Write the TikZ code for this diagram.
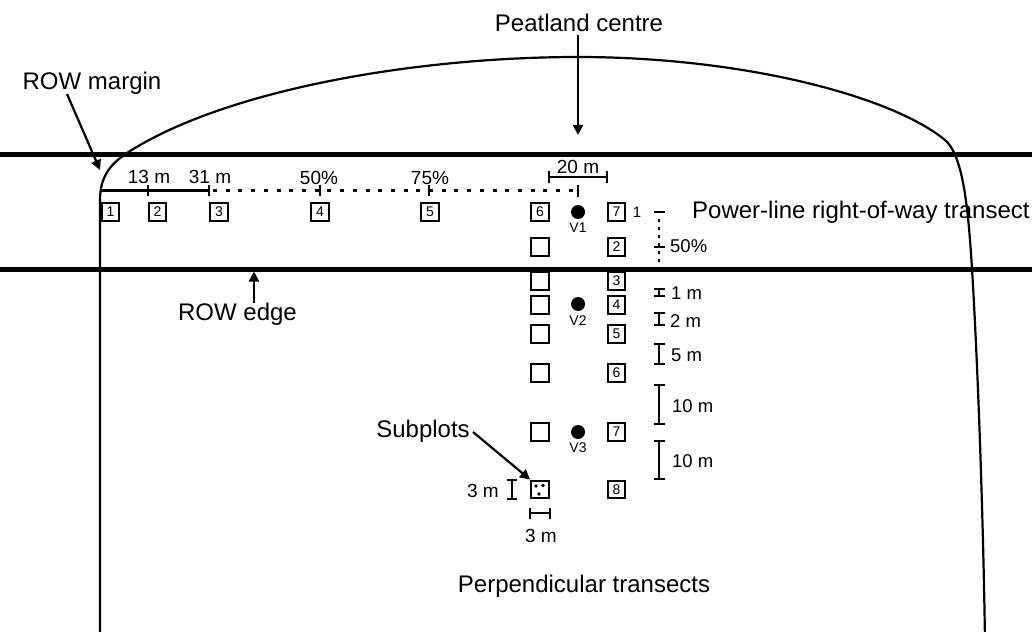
\documentclass[tikz,border=0pt]{standalone}
\usepackage{fontspec}
\setmainfont{Liberation Sans}
\usetikzlibrary{arrows.meta}
\begin{document}
\begin{tikzpicture}[x=1pt,y=-1pt,
  plotbox/.style={draw,line width=2.4pt,minimum size=17.5pt,inner sep=0pt,font=\fontsize{14}{16}\selectfont},
  biglbl/.style={inner sep=0pt,font=\fontsize{24}{28}\selectfont},
  midlbl/.style={inner sep=0pt,font=\fontsize{19}{22}\selectfont},
  sclbl/.style={inner sep=0pt,font=\fontsize{18.5}{22}\selectfont,anchor=base west},
  smalllbl/.style={inner sep=0pt,font=\fontsize{14}{16}\selectfont},
  rowline/.style={line width=5pt},
  outline/.style={line width=2.2pt},
  arr/.style={line width=2.2pt,-{Triangle[length=10pt,width=10pt]}},
  bar/.style={line width=2.6pt},
  vdot/.style={circle,fill,inner sep=0pt,minimum size=14pt},
  sdot/.style={circle,fill,inner sep=0pt,minimum size=3.8pt}
]
\useasboundingbox (0,0) rectangle (1032,631);

% peatland outline
\draw[outline] (100,640) -- (100,200) .. controls (100,172) and (115,160) .. (135,148)
  .. controls (235,88) and (420,57) .. (578,57)
  .. controls (740,57) and (890,95) .. (945,140)
  .. controls (960,153) and (966,190) .. (970,240)
  .. controls (974,290) and (982,450) .. (985,640);

% ROW edges
\draw[rowline] (0,155) -- (1032,155);
\draw[rowline] (0,269) -- (1032,269);

% main transect
\draw[bar] (101,190.5) -- (209,190.5);
\draw[bar, dash pattern=on 4pt off 8.71pt] (213,190.5) -- (573,190.5);
\foreach \x in {148,209,320,429} \draw[bar] (\x,185) -- (\x,196);
\draw[bar] (578,185) -- (578,197);

% 20 m bar
\draw[bar] (549,177) -- (607,177) (549,171) -- (549,183) (607,171) -- (607,183);

% labels on transect
\node[midlbl,anchor=base] (l13) at (149,183.5) {13 m};
\node[midlbl,anchor=base] (l31) at (210,183.5) {31 m};
\node[midlbl,anchor=base] (l50) at (319,185) {50\%};
\node[midlbl,anchor=base] (l75) at (430,185) {75\%};
\node[midlbl,anchor=base] (l20) at (578,173) {20 m};

% ROW transect plots
\node[plotbox] (p1) at (110.5,212) {1};
\node[plotbox] (p2) at (157.5,212) {2};
\node[plotbox] (p3) at (219,212) {3};
\node[plotbox] (p4) at (320,212) {4};
\node[plotbox] (p5) at (430,212) {5};
\node[plotbox] (p6) at (540,212) {6};
\node[plotbox] (q1) at (616.5,212) {7};
\node[smalllbl,font=\fontsize{15}{17}\selectfont] (n1) at (637,212) {1};

% perpendicular transects: left column
\node[plotbox] (a2) at (540,247) {};
\node[plotbox] (a3) at (540,281) {};
\node[plotbox] (a4) at (540,305) {};
\node[plotbox] (a5) at (540,334) {};
\node[plotbox] (a6) at (540,373) {};
\node[plotbox] (a7) at (540,432) {};
\node[plotbox] (sub) at (540,489.5) {};
\node[sdot] (s1) at (536,486) {};
\node[sdot] (s2) at (543,485.5) {};
\node[sdot] (s3) at (539,494) {};

% right column
\node[plotbox] (q2) at (616.5,247) {2};
\node[plotbox] (q3) at (616.5,281) {3};
\node[plotbox] (q4) at (616.5,305) {4};
\node[plotbox] (q5) at (616.5,334) {5};
\node[plotbox] (q6) at (616.5,373) {6};
\node[plotbox] (q7) at (616.5,432) {7};
\node[plotbox] (q8) at (616.5,489.5) {8};

% vegetation points
\node[vdot] (v1) at (578,212) {};
\node[smalllbl] (v1l) at (578,227.5) {V1};
\node[vdot] (v2) at (578,304) {};
\node[smalllbl] (v2l) at (578,321) {V2};
\node[vdot] (v3) at (578,432) {};
\node[smalllbl] (v3l) at (578,448) {V3};

% right scale
\draw[bar] (654,212) -- (665,212) (654,247) -- (665,247);
\draw[bar, dash pattern=on 3pt off 5pt] (659,219) -- (659,269);
\node[sclbl] (s50) at (670,252) {50\%};

\draw[bar] (659,289) -- (659,296) (654,289) -- (665,289) (654,296) -- (665,296);
\node[sclbl] (m1) at (671,299) {1 m};
\draw[bar] (659,313) -- (659,325) (654,313) -- (665,313) (654,325) -- (665,325);
\node[sclbl] (m2) at (670,327) {2 m};
\draw[bar] (659,344) -- (659,364) (654,344) -- (665,344) (654,364) -- (665,364);
\node[sclbl] (m5) at (671,361) {5 m};
\draw[bar] (659,385) -- (659,424) (654,385) -- (665,385) (654,424) -- (665,424);
\node[sclbl] (m10a) at (672,412) {10 m};
\draw[bar] (659,441) -- (659,479) (654,441) -- (665,441) (654,479) -- (665,479);
\node[sclbl] (m10b) at (672,467) {10 m};

% subplot 3 m bars
\draw[bar] (512,480) -- (512,499) (507,480) -- (517,480) (507,499) -- (517,499);
\node[midlbl,anchor=base east] (t3a) at (499,497) {3 m};
\draw[bar] (530,513) -- (550,513) (530,507.5) -- (530,518.5) (550,507.5) -- (550,518.5);
\node[midlbl,anchor=base] (t3b) at (541,542.5) {3 m};

% big labels and arrows
\node[biglbl,anchor=base] (pc) at (579,31.5) {Peatland centre};
\coordinate (pcstart) at (578,35);
\coordinate (pctip) at (578,135);
\draw[arr] (pcstart) -- (pctip);

\node[biglbl,anchor=base] (rm) at (92,90) {ROW margin};
\coordinate (rmstart) at (67,94);
\coordinate (rmtip) at (100,170);
\draw[arr] (rmstart) -- (rmtip);

\node[biglbl,anchor=base] (re) at (237.5,320) {ROW edge};
\coordinate (restart) at (254,303);
\coordinate (retip) at (254,271.5);
\draw[arr] (restart) -- (retip);

\node[biglbl,anchor=base west] (pl) at (692,218) {Power-line right-of-way transect};

\node[biglbl,anchor=base] (sp) at (423,437) {Subplots};
\coordinate (spstart) at (473,432);
\draw[arr] (spstart) -- (sub.north west);

\node[biglbl,anchor=base] (pt) at (584,592.5) {Perpendicular transects};
\end{tikzpicture}
\end{document}
